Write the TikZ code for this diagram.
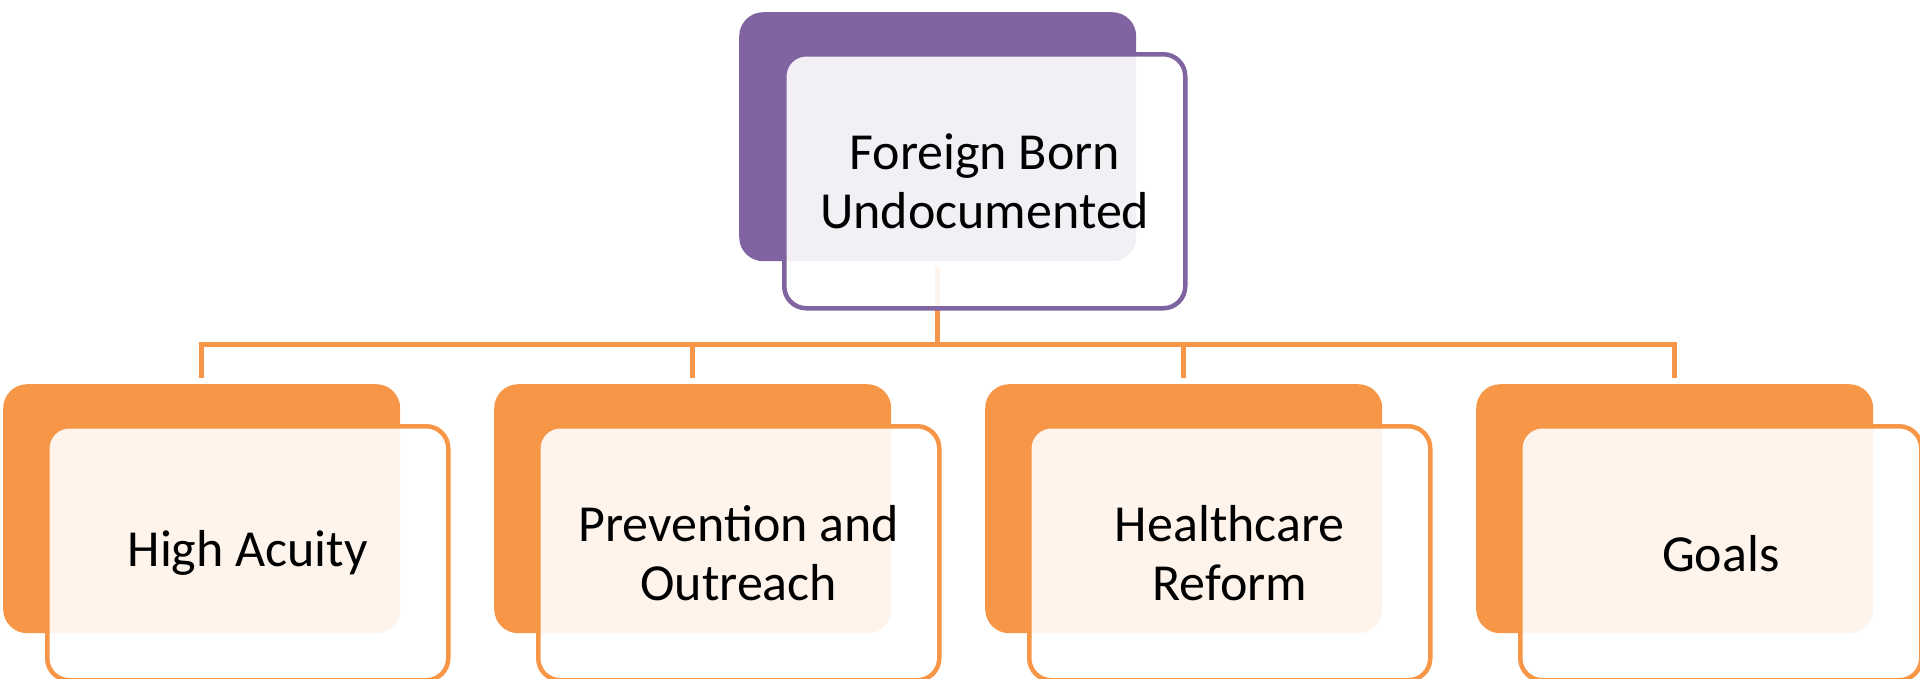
\documentclass[tikz,border=0pt]{standalone}
\usepackage{fontspec}
\setmainfont{Carlito}
\definecolor{purp}{HTML}{8064A2}
\definecolor{orng}{HTML}{F79646}
\tikzset{
  backbox/.style={fill=#1, rounded corners=24pt, minimum width=397pt, minimum height=249pt, inner sep=0pt, anchor=north west},
  frontbox/.style={draw=#1, line width=4.5pt, fill=white, fill opacity=0.9, text opacity=1, rounded corners=22pt, minimum width=401pt, minimum height=254pt, inner sep=0pt, anchor=north west, align=center, font=\fontsize{52}{59}\selectfont},
  conn/.style={draw=orng, line width=4.5pt, shorten <=6pt, shorten >=6pt}
}
\begin{document}
\begin{tikzpicture}[x=1pt,y=-1pt]
\useasboundingbox (0,0) rectangle (1920,678);
% back boxes
\node[backbox=purp] (tb) at (739,12) {};
\node[backbox=orng] (b1) at (3,384) {};
\node[backbox=orng] (b2) at (494,384) {};
\node[backbox=orng] (b3) at (985,384) {};
\node[backbox=orng] (b4) at (1476,384) {};
% connectors
\draw[conn] (tb.south) -- ++(0,83) -| (b1.north);
\draw[conn] (tb.south) -- ++(0,83) -| (b2.north);
\draw[conn] (tb.south) -- ++(0,83) -| (b3.north);
\draw[conn] (tb.south) -- ++(0,83) -| (b4.north);
% front boxes
\node[frontbox=purp] (tf) at (782,52) {Foreign Born\\Undocumented};
\node[frontbox=orng] (f1) at (45,424) {High Acuity};
\node[frontbox=orng] (f2) at (536,424) {Prevention and\\Outreach};
\node[frontbox=orng] (f3) at (1027,424) {Healthcare\\Reform};
\node[frontbox=orng] (f4) at (1518,424) {Goals};
\end{tikzpicture}
\end{document}
